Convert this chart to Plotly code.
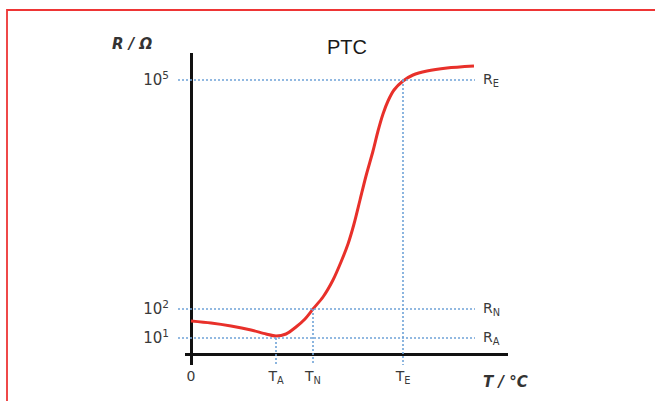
import plotly.graph_objects as go

# schematic PTC curve: temperature position vs. position on the (non-uniform) log axis
temp = [0, 20, 40, 60, 75, 85, 95, 105, 114, 122, 132, 142, 150, 157, 163, 169, 175, 182,
        187, 192, 197, 203, 212, 222, 236, 256, 283]
res = [33, 31, 28, 24, 20, 18, 20, 27, 35, 45, 57, 74, 92, 110, 130, 154, 178, 203,
       223, 240, 253, 264, 273, 279, 283, 286, 288]

# marked points
t_marks = [85, 122, 212]          # T_A, T_N, T_E
r_marks = [16, 45, 274]           # R_A, R_N, R_E  (10^1, 10^2, 10^5)
t_labels = ['T<sub>A</sub>', 'T<sub>N</sub>', 'T<sub>E</sub>']
r_labels = ['R<sub>A</sub>', 'R<sub>N</sub>', 'R<sub>E</sub>']
r_ticks = ['10<sup>1</sup>', '10<sup>2</sup>', '10<sup>5</sup>']

W, H = 655, 401
ML, MR, MT, MB = 176, 147, 53, 36
PW, PH = W - ML - MR, H - MT - MB


def px(x):
    return (x - ML) / PW


def py(y):
    return (H - MB - y) / PH


GUIDE_LEFT, GUIDE_RIGHT, GUIDE_BOTTOM = -13, 284, -11
X_RANGE = [-15, 317]
Y_RANGE = [-11, 301]

gx, gy = [], []
for t, r in zip(t_marks, r_marks):
    gx += [GUIDE_LEFT, GUIDE_RIGHT, None, t, t, None]
    gy += [r, r, None, r, GUIDE_BOTTOM, None]

fig = go.Figure()
fig.add_trace(go.Scatter(x=temp, y=res, mode='lines', xaxis='x', yaxis='y',
                         line=dict(color='#e8302a', width=3, shape='spline', smoothing=0.8)))
fig.add_trace(go.Scatter(x=gx, y=gy, mode='lines', xaxis='x2', yaxis='y2',
                         line=dict(color='#6fa3d8', width=1.6, dash='2px,2px'),
                         hoverinfo='skip'))

axis_common = dict(showgrid=False, showline=False, ticks='')
fig.update_layout(
    width=W, height=H,
    margin=dict(l=ML, r=MR, t=MT, b=MB),
    paper_bgcolor='white', plot_bgcolor='rgba(0,0,0,0)',
    showlegend=False,
    font=dict(family='DejaVu Sans', color='#444'),
    # axes lines (cross at the origin, with small overhang)
    xaxis=dict(domain=[px(185), 1], range=[-6, 317], anchor='y', showticklabels=False,
               zeroline=True, zerolinecolor='#111', zerolinewidth=3, **axis_common),
    yaxis=dict(domain=[0, 1], range=Y_RANGE, anchor='x', showticklabels=False,
               zeroline=True, zerolinecolor='#111', zerolinewidth=3, **axis_common),
    xaxis2=dict(domain=[0, 1], range=X_RANGE, anchor='y2', zeroline=False,
                tickvals=[0] + t_marks, ticktext=['0'] + t_labels,
                tickfont=dict(size=14, color='#3a3a3a'), ticklabelstandoff=1, **axis_common),
    yaxis2=dict(domain=[0, 1], range=Y_RANGE, anchor='x2', zeroline=False,
                tickvals=r_marks, ticktext=r_ticks,
                tickfont=dict(size=15, color='#3a3a3a'), ticklabelstandoff=6, **axis_common),
)

for lab, r in zip(r_labels, r_marks):
    fig.add_annotation(text=lab, xref='paper', yref='y2', x=px(481), y=r,
                       xanchor='left', yanchor='middle', showarrow=False,
                       font=dict(size=14, color='#3a3a3a'))

fig.add_annotation(text='<b><i>R / Ω</i></b>', xref='paper', yref='paper',
                   x=px(132), y=py(44), xanchor='center', yanchor='middle', showarrow=False,
                   font=dict(size=15, color='#333'))
fig.add_annotation(text='PTC', xref='paper', yref='paper',
                   x=px(347), y=py(47), xanchor='center', yanchor='middle', showarrow=False,
                   font=dict(family='Liberation Sans', size=20, color='#1a1a1a'))
fig.add_annotation(text='<b><i>T / °C</i></b>', xref='paper', yref='paper',
                   x=px(505), y=py(382), xanchor='center', yanchor='middle', showarrow=False,
                   font=dict(size=15, color='#333'))

# red frame around the figure
fig.add_shape(type='rect', xref='paper', yref='paper',
              x0=px(7), y0=py(10), x1=px(720), y1=py(460),
              line=dict(color='#ee3535', width=1.8))

fig.write_html('out.html', config={'displayModeBar': False},
               post_script="document.body.style.margin='0';")
